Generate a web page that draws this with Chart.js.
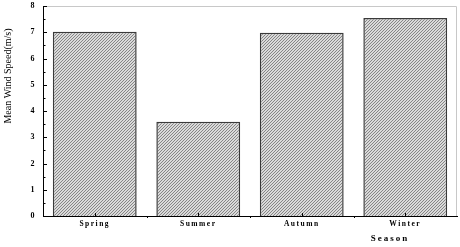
<!DOCTYPE html>
<html><head><meta charset="utf-8">
<script src="https://cdn.jsdelivr.net/npm/chart.js@4/dist/chart.umd.min.js"></script>
<style>html,body{margin:0;padding:0;background:#fff;}#wrap{width:460px;height:247px;}</style>
</head><body><div id="wrap"><canvas id="c" width="460" height="247"></canvas></div>
<script>
const categories = ["Spring", "Summer", "Autumn", "Winter"];
const meanWindSpeed = [7.02, 3.59, 6.98, 7.54];
const yTicks = [0, 1, 2, 3, 4, 5, 6, 7, 8];
const yTitle = "Mean Wind Speed(m/s)";
const xTitle = "Season";

function makePattern() {
  const p = document.createElement('canvas');
  p.width = 3; p.height = 3;
  const g = p.getContext('2d');
  g.fillStyle = '#dadada'; g.fillRect(0, 0, 3, 3);
  g.fillStyle = '#858585';
  g.fillRect(0, 2, 1, 1); g.fillRect(1, 1, 1, 1); g.fillRect(2, 0, 1, 1);
  return g.createPattern(p, 'repeat');
}
const ctx0 = document.getElementById('c').getContext('2d');
const hatch = makePattern();

const SERIF = '"Liberation Serif", "DejaVu Serif", serif';

const decor = {
  id: 'decor',
  beforeDraw(chart) { chart.ctx.letterSpacing = '1.5px'; },
  afterDraw(chart) {
    const ctx = chart.ctx, a = chart.chartArea;
    const ys = chart.scales.y, xs = chart.scales.x;
    ctx.save();
    ctx.letterSpacing = '0px';
    // top & right frame
    ctx.strokeStyle = '#c8c8c8'; ctx.lineWidth = 1;
    ctx.beginPath();
    ctx.moveTo(a.left, a.top + 0.5); ctx.lineTo(a.right - 0.5, a.top + 0.5); ctx.lineTo(a.right - 0.5, a.bottom);
    ctx.stroke();
    // y ticks inward
    ctx.strokeStyle = '#000'; ctx.lineWidth = 1;
    ctx.beginPath();
    for (let v = 0; v <= 8; v += 0.5) {
      const y = Math.round(ys.getPixelForValue(v)) + 0.5;
      const len = (v % 1 === 0) ? 4 : 2.5;
      ctx.moveTo(a.left, y); ctx.lineTo(a.left + len, y);
    }
    // x ticks
    categories.forEach((c, i) => {
      const x = Math.round(xs.getPixelForValue(i)) + 0.5;
      ctx.moveTo(x, a.bottom); ctx.lineTo(x, a.bottom - 3);
      if (i > 0) {
        const xb = Math.round((xs.getPixelForValue(i) + xs.getPixelForValue(i - 1)) / 2) + 0.5;
        ctx.moveTo(xb, a.bottom); ctx.lineTo(xb, a.bottom + 2);
      }
    });
    ctx.stroke();
    // y title
    ctx.fillStyle = '#000';
    ctx.font = '10px ' + SERIF;
    ctx.textAlign = 'center'; ctx.textBaseline = 'middle';
    ctx.translate(8, 76); ctx.rotate(-Math.PI / 2);
    ctx.fillText(yTitle, 0, 0);
    ctx.restore();
    // x title
    ctx.save();
    ctx.letterSpacing = '2px';
    ctx.fillStyle = '#000';
    ctx.font = 'bold 9px ' + SERIF;
    ctx.textAlign = 'center'; ctx.textBaseline = 'middle';
    ctx.fillText(xTitle, 390, 239);
    ctx.restore();
  }
};

new Chart(ctx0, {
  type: 'bar',
  data: {
    labels: categories,
    datasets: [{
      data: meanWindSpeed,
      backgroundColor: hatch,
      borderColor: '#3a3a3a',
      borderWidth: 1.5,
      barPercentage: 0.81,
      categoryPercentage: 1.0
    }]
  },
  options: {
    responsive: false,
    animation: false,
    devicePixelRatio: 1,
    layout: { padding: { top: 6, right: 3, left: 0, bottom: 0 } },
    plugins: { legend: { display: false }, tooltip: { enabled: false }, title: { display: false } },
    scales: {
      x: {
        grid: { display: false, drawTicks: false },
        border: { display: true, color: '#000', width: 1 },
        ticks: { color: '#000', font: { family: SERIF, size: 7.5, weight: 'bold' }, padding: 4, maxRotation: 0 },
        afterFit(s) { s.height = 31; s.paddingLeft = 0; s.paddingRight = 0; }
      },
      y: {
        min: 0, max: 8,
        grid: { display: false, drawTicks: false },
        border: { display: true, color: '#000', width: 1 },
        afterBuildTicks(s) { s.ticks = yTicks.map(v => ({ value: v })); },
        ticks: { color: '#000', font: { family: SERIF, size: 8, weight: 'bold' }, padding: 7 },
        afterFit(s) { s.width = 43; s.paddingTop = 0; s.paddingBottom = 0; }
      }
    }
  },
  plugins: [decor]
});
</script>
</body></html>
